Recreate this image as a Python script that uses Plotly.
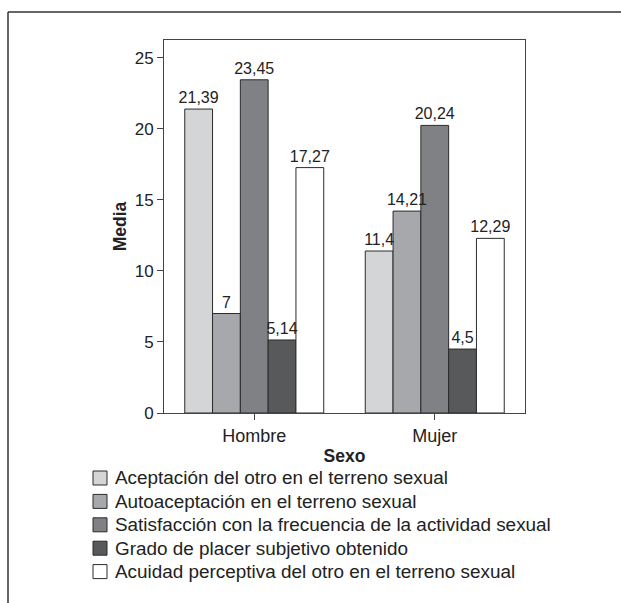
import plotly.graph_objects as go

# Data
sexo = ["Hombre", "Mujer"]
series_names = [
    "Aceptación del otro en el terreno sexual",
    "Autoaceptación en el terreno sexual",
    "Satisfacción con la frecuencia de la actividad sexual",
    "Grado de placer subjetivo obtenido",
    "Acuidad perceptiva del otro en el terreno sexual",
]
aceptacion_otro = [21.39, 11.4]
autoaceptacion = [7, 14.21]
satisfaccion_frecuencia = [23.45, 20.24]
grado_placer = [5.14, 4.5]
acuidad_perceptiva = [17.27, 12.29]
series_values = [aceptacion_otro, autoaceptacion, satisfaccion_frecuencia,
                 grado_placer, acuidad_perceptiva]
y_ticks = [0, 5, 10, 15, 20, 25]

# Styling
fills = ["#d4d5d7", "#a7a8ab", "#808184", "#58595b", "#ffffff"]
edge = "#2b2b2b"
font_family = "Liberation Sans, Arial, Helvetica, sans-serif"
W, H = 621, 603
M_L, M_R, M_T, M_B = 164, 96, 40, 190
PW, PH = W - M_L - M_R, H - M_T - M_B


def px_x(px):
    return (px - M_L) / PW


def px_y(py):
    return (H - M_B - py) / PH


def fmt(v):
    return f"{v:g}".replace(".", ",")


fig = go.Figure()
# filled bars
for name, vals, col in zip(series_names, series_values, fills):
    fig.add_trace(go.Bar(
        x=sexo, y=vals, name=name,
        marker=dict(color=col, line=dict(color=edge, width=1)),
        showlegend=False, xaxis="x", yaxis="y",
    ))
# value labels on an overlaid axis so they sit above every bar
for name, vals in zip(series_names, series_values):
    fig.add_trace(go.Bar(
        x=sexo, y=vals, name=name,
        marker=dict(color="rgba(0,0,0,0)", line=dict(width=0)),
        text=[fmt(v) for v in vals],
        textposition="outside",
        constraintext="none",
        cliponaxis=False,
        textfont=dict(family=font_family, size=16, color="#222222"),
        hoverinfo="skip",
        showlegend=False, xaxis="x2", yaxis="y",
    ))

shapes = [
    # outer frame (top and left edges)
    dict(type="line", xref="paper", yref="paper",
         x0=px_x(8), x1=px_x(W + 2), y0=px_y(12), y1=px_y(12),
         line=dict(color="#333333", width=1.5)),
    dict(type="line", xref="paper", yref="paper",
         x0=px_x(8), x1=px_x(8), y0=px_y(12), y1=px_y(H + 2),
         line=dict(color="#333333", width=1.5)),
]
annotations = []

# legend drawn as swatches with labels
for i, (name, col) in enumerate(zip(series_names, fills)):
    cy = 478 + 23.4 * i
    shapes.append(dict(type="rect", xref="paper", yref="paper",
                       x0=px_x(93), x1=px_x(107), y0=px_y(cy - 7), y1=px_y(cy + 7),
                       fillcolor=col, line=dict(color=edge, width=1)))
    annotations.append(dict(xref="paper", yref="paper", x=px_x(114), y=px_y(cy),
                            xanchor="left", yanchor="middle", showarrow=False,
                            text=name, borderpad=0,
                            font=dict(family=font_family, size=18.9, color="#222222")))

fig.update_layout(
    width=W, height=H,
    margin=dict(l=M_L, r=M_R, t=M_T, b=M_B, autoexpand=False),
    paper_bgcolor="white", plot_bgcolor="white",
    barmode="group", bargap=0.23, bargroupgap=0,
    font=dict(family=font_family, color="#222222"),
    shapes=shapes, annotations=annotations,
    showlegend=False,
    xaxis=dict(
        showline=True, linecolor="#444444", linewidth=1, mirror=True,
        ticks="outside", ticklen=6, tickcolor="#444444",
        tickfont=dict(size=18), showgrid=False,
        title=dict(text="<b>Sexo</b>", font=dict(size=17.5), standoff=5),
    ),
    xaxis2=dict(overlaying="x", matches="x", visible=False),
    yaxis=dict(
        range=[0, 26.25], tickvals=y_ticks,
        showline=True, linecolor="#444444", linewidth=1, mirror=True,
        ticks="outside", ticklen=6, tickcolor="#444444",
        tickfont=dict(size=17), showgrid=False, zeroline=False,
        title=dict(text="<b>Media</b>", font=dict(size=17.5), standoff=3),
    ),
)

fig.write_html("out.html")
